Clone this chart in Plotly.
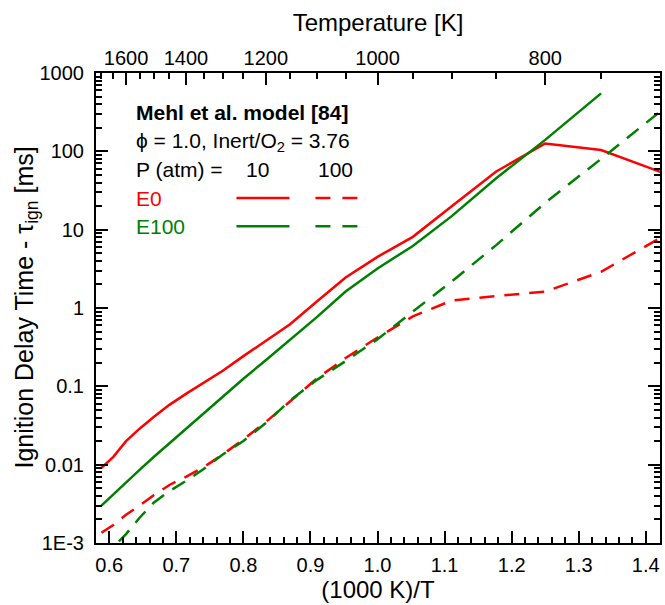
import plotly.graph_objects as go

# ---------------- data ----------------
T_K = [1700, 1650, 1600, 1550, 1500, 1450, 1400, 1350, 1300, 1250, 1200,
       1150, 1100, 1050, 1000, 950, 900, 850, 800, 750, 700]
inv_T = [1000.0 / t for t in T_K]

E0_10atm = [0.0091, 0.0126, 0.020, 0.0288, 0.041, 0.058, 0.080, 0.110, 0.158, 0.243, 0.38,
            0.62, 1.2, 2.45, 4.5, 8.1, 20, 55, 126, 104, 52]
E100_10atm = [0.003, 0.0042, 0.006, 0.0086, 0.0126, 0.0187, 0.028, 0.044, 0.072, 0.125, 0.215,
              0.39, 0.76, 1.62, 3.2, 6.2, 15, 45, 140, 550]
E0_100atm = [0.00135, 0.0017, 0.0023, 0.003, 0.0041, 0.0055, 0.007, 0.0093, 0.0135, 0.021, 0.035,
             0.065, 0.125, 0.23, 0.42, 0.78, 1.25, 1.42, 1.62, 2.9, 8.5]
E100_100atm = [0.00062, 0.00088, 0.0013, 0.0021, 0.0033, 0.0046, 0.0062, 0.0088, 0.0135, 0.020, 0.034,
               0.066, 0.12, 0.21, 0.40, 0.9, 2.2, 6.3, 22, 80, 360]

top_major_T = [1600, 1400, 1200, 1000, 800]
top_minor_T = [1700, 1650, 1550, 1500, 1450, 1350, 1300, 1250, 1150, 1100, 1050, 950, 900, 850, 750]

y_tickvals = [1e-3, 1e-2, 1e-1, 1, 10, 100, 1000]
y_ticktext = ["1E-3", "0.01", "0.1", "1", "10", "100", "1000"]
y_minor = [k * 10 ** n for n in range(-3, 3) for k in range(2, 10)]

RED = "#ff0000"
GREEN = "#008000"
FONT = "Arial, Liberation Sans, sans-serif"
DASH = "15px,10px"
LW = 2.5

x_range = [0.5802, 1.4212]

fig = go.Figure()
fig.add_trace(go.Scatter(x=inv_T, y=E0_10atm, mode="lines",
                         line=dict(color=RED, width=LW), showlegend=False))
fig.add_trace(go.Scatter(x=inv_T[:len(E100_10atm)], y=E100_10atm, mode="lines",
                         line=dict(color=GREEN, width=LW), showlegend=False))
fig.add_trace(go.Scatter(x=inv_T, y=E0_100atm, mode="lines",
                         line=dict(color=RED, width=LW, dash=DASH), showlegend=False))
fig.add_trace(go.Scatter(x=inv_T, y=E100_100atm, mode="lines",
                         line=dict(color=GREEN, width=LW, dash=DASH), showlegend=False))
# invisible trace to anchor the top temperature axis
fig.add_trace(go.Scatter(x=[1000.0 / t for t in top_major_T], y=[1] * len(top_major_T),
                         xaxis="x2", mode="markers", marker=dict(opacity=0),
                         hoverinfo="skip", showlegend=False))

tickfont = dict(family=FONT, size=20, color="black")
titlefont = dict(family=FONT, size=24, color="black")

fig.update_layout(
    width=665, height=605,
    margin=dict(l=96, r=3, t=73, b=62),
    paper_bgcolor="white", plot_bgcolor="white",
    xaxis=dict(
        range=x_range, showgrid=False, zeroline=False,
        showline=True, linecolor="black", linewidth=2, mirror=True,
        ticks="inside", ticklen=12, tickwidth=2, tickcolor="black",
        tick0=0, dtick=0.1, tickformat=".1f",
        minor=dict(ticks="inside", ticklen=6, tickwidth=2, tickcolor="black", dtick=0.02, tick0=0),
        tickfont=tickfont, ticklabelstandoff=3,
        title=dict(text="(1000 K)/T", font=titlefont, standoff=6),
    ),
    xaxis2=dict(
        range=x_range, overlaying="x", side="top", showgrid=False, zeroline=False,
        showline=False,
        tickmode="array", tickvals=[1000.0 / t for t in top_major_T],
        ticktext=[str(t) for t in top_major_T],
        ticks="inside", ticklen=12, tickwidth=2, tickcolor="black",
        minor=dict(ticks="inside", ticklen=6, tickwidth=2, tickcolor="black",
                   tickvals=[1000.0 / t for t in top_minor_T]),
        tickfont=tickfont, ticklabelstandoff=3,
        title=dict(text="Temperature [K]", font=titlefont, standoff=8),
    ),
    yaxis=dict(
        type="log", range=[-3, 3], showgrid=False, zeroline=False,
        showline=True, linecolor="black", linewidth=2, mirror="ticks",
        tickmode="array", tickvals=y_tickvals, ticktext=y_ticktext,
        ticks="inside", ticklen=12, tickwidth=2, tickcolor="black",
        minor=dict(ticks="inside", ticklen=6, tickwidth=1.5, tickcolor="black", tickvals=y_minor),
        tickfont=tickfont, ticklabelstandoff=6,
    ),
)

# y-axis title placed as rotated text
fig.add_annotation(x=-0.125, y=0.5, xref="paper", yref="paper", xanchor="center", yanchor="middle",
                   text="Ignition Delay Time - τ<sub>ign</sub> [ms]", textangle=-90,
                   showarrow=False, font=dict(family=FONT, size=25, color="black"))

# ---------------- in-plot key ----------------
ann_font = dict(family=FONT, size=21, color="black")
xl = 0.0671
rows = {"title": 0.915, "phi": 0.853, "p": 0.794, "e0": 0.734, "e100": 0.674}
fig.add_annotation(x=xl, y=rows["title"], xref="paper", yref="paper", xanchor="left", yanchor="middle",
                   text="<b>Mehl et al. model [84]</b>", showarrow=False,
                   font=dict(family=FONT, size=21, color="black"))
fig.add_annotation(x=xl, y=rows["phi"], xref="paper", yref="paper", xanchor="left", yanchor="middle",
                   text="ϕ = 1.0, Inert/O<sub>2</sub> = 3.76", showarrow=False, font=ann_font)
fig.add_annotation(x=xl, y=rows["p"], xref="paper", yref="paper", xanchor="left", yanchor="middle",
                   text="P (atm) =", showarrow=False, font=ann_font)
fig.add_annotation(x=0.287, y=rows["p"], xref="paper", yref="paper", xanchor="center", yanchor="middle",
                   text="10", showarrow=False, font=ann_font)
fig.add_annotation(x=0.424, y=rows["p"], xref="paper", yref="paper", xanchor="center", yanchor="middle",
                   text="100", showarrow=False, font=ann_font)
fig.add_annotation(x=xl, y=rows["e0"], xref="paper", yref="paper", xanchor="left", yanchor="middle",
                   text="E0", showarrow=False, font=dict(family=FONT, size=21, color=RED))
fig.add_annotation(x=xl, y=rows["e100"], xref="paper", yref="paper", xanchor="left", yanchor="middle",
                   text="E100", showarrow=False, font=dict(family=FONT, size=21, color=GREEN))
for key, col in (("e0", RED), ("e100", GREEN)):
    fig.add_shape(type="line", xref="paper", yref="paper", x0=0.249, x1=0.343,
                  y0=rows[key], y1=rows[key], line=dict(color=col, width=LW))
    fig.add_shape(type="line", xref="paper", yref="paper", x0=0.389, x1=0.466,
                  y0=rows[key], y1=rows[key], line=dict(color=col, width=LW, dash="15px,12px"))

fig.write_html("out.html")
